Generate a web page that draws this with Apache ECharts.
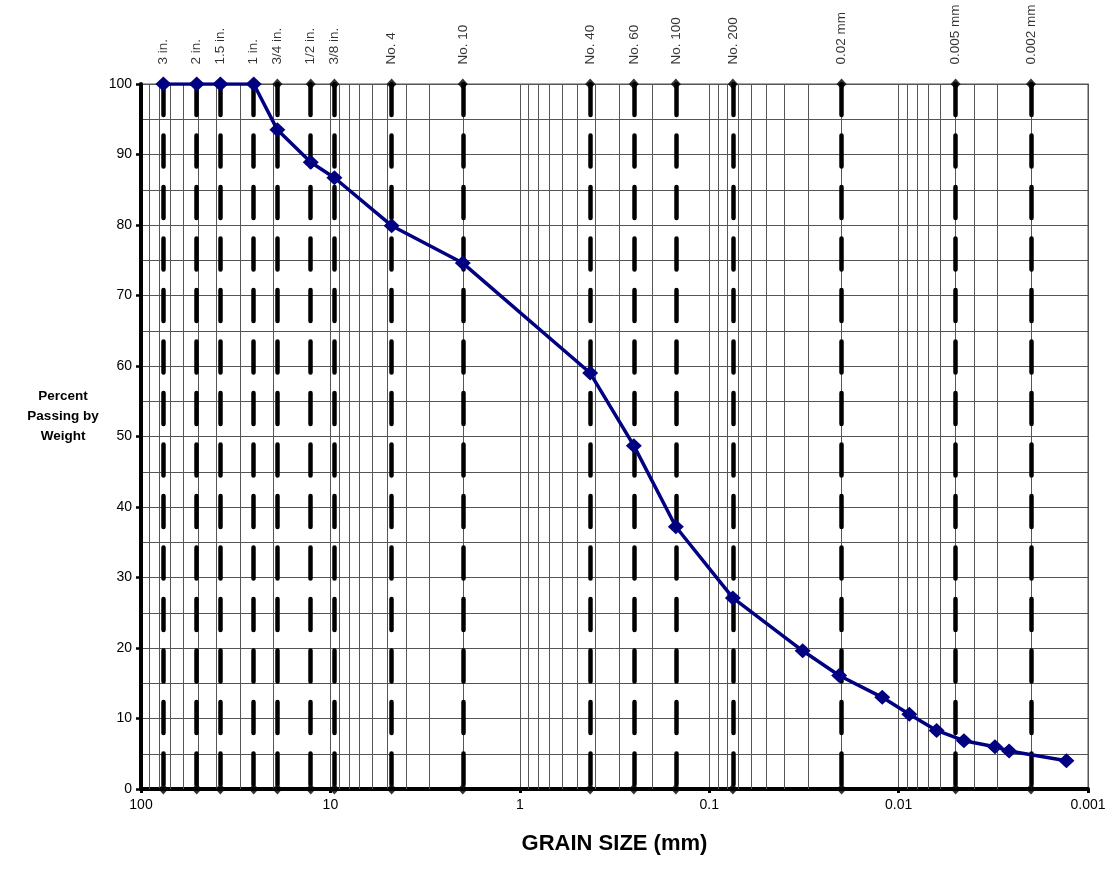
<!DOCTYPE html>
<html>
<head>
<meta charset="utf-8">
<script src="https://cdn.jsdelivr.net/npm/echarts@6/dist/echarts.min.js"></script>
<style>
  html, body { margin: 0; padding: 0; background: #fff; }
  #chart { width: 1113px; height: 886px; }
</style>
</head>
<body>
<div id="chart"></div>
<script>
// sieve openings (mm) and their names
var sieveSizes = [76.2, 50.8, 38.1, 25.4, 19.05, 12.7, 9.525, 4.75, 2.0, 0.425, 0.25, 0.15, 0.075, 0.02, 0.005, 0.002];
var sieveNames = ['3 in.', '2 in.', '1.5 in.', '1 in.', '3/4 in.', '1/2 in.', '3/8 in.', 'No. 4', 'No. 10',
                  'No. 40', 'No. 60', 'No. 100', 'No. 200', '0.02 mm', '0.005 mm', '0.002 mm'];

// measured grading: grain size (mm) and percent passing
var grainSize = [76.2, 50.8, 38.1, 25.4, 19.05, 12.7, 9.525, 4.75, 2.0, 0.425, 0.25, 0.15, 0.075,
                 0.0321, 0.0206, 0.0122, 0.00878, 0.0063, 0.00452, 0.0031, 0.00261, 0.0013];
var percentPassing = [100, 100, 100, 100, 93.5, 88.9, 86.7, 79.9, 74.6, 59.0, 48.7, 37.2, 27.1,
                      19.6, 16.1, 13.0, 10.6, 8.3, 6.85, 6.0, 5.4, 4.0];

var xTicks = [100, 10, 1, 0.1, 0.01, 0.001];
var yTicks = [0, 10, 20, 30, 40, 50, 60, 70, 80, 90, 100];

var FONT = 'Arial, "Liberation Sans", sans-serif';

// log minor gridlines (2..9 in each decade)
var minorX = [];
[0.001, 0.01, 0.1, 1, 10].forEach(function (d) {
  for (var k = 2; k <= 9; k++) minorX.push(+(k * d).toPrecision(3));
});

var topMarks = sieveSizes.map(function (s, i) { return { value: [s, 100], name: sieveNames[i] }; });
var bottomMarks = sieveSizes.map(function (s) { return [s, 0]; });

var chart = echarts.init(document.getElementById('chart'));
chart.setOption({
  animation: false,
  grid: {
    left: 141, top: 84, right: 25, bottom: 97,
    show: true, borderColor: '#8a8a8a', borderWidth: 1.5
  },
  xAxis: {
    type: 'log', logBase: 10, min: 0.001, max: 100, inverse: true,
    name: 'GRAIN SIZE (mm)', nameLocation: 'middle', nameGap: 44,
    nameTextStyle: { fontFamily: FONT, fontWeight: 'bold', fontSize: 22, color: '#000' },
    axisLine: { lineStyle: { color: '#000', width: 4 } },
    axisTick: { show: true, length: 4, lineStyle: { color: '#000', width: 3 } },
    axisLabel: {
      fontFamily: FONT, fontSize: 14, color: '#000', margin: 9,
      formatter: function (v) {
        var r = +(+v).toPrecision(3);
        return xTicks.indexOf(r) >= 0 ? String(r) : '';
      }
    },
    splitLine: { show: true, lineStyle: { color: '#555', width: 1 } }
  },
  yAxis: {
    type: 'value', min: 0, max: 100, interval: 10,
    // two trailing blank lines lift the block to where the original sits
    name: 'Percent\nPassing by\nWeight\n \n ', nameLocation: 'middle', nameGap: 78, nameRotate: 0,
    nameTextStyle: {
      fontFamily: FONT, fontWeight: 'bold', fontSize: 13.5, color: '#000',
      lineHeight: 20, align: 'center'
    },
    axisLine: { show: true, lineStyle: { color: '#000', width: 4 } },
    axisTick: { show: true, length: 5, lineStyle: { color: '#000', width: 2.5 } },
    axisLabel: {
      fontFamily: FONT, fontSize: 14, color: '#000', margin: 9,
      formatter: function (v) { return yTicks.indexOf(v) >= 0 ? String(v) : ''; }
    },
    splitLine: { show: true, lineStyle: { color: '#555', width: 1 } },
    minorTick: { show: false, splitNumber: 2 },
    minorSplitLine: { show: true, lineStyle: { color: '#555', width: 1 } }
  },
  series: [
    {
      name: 'minorGrid',
      type: 'lines',
      coordinateSystem: 'cartesian2d',
      silent: true,
      z: 1,
      lineStyle: { color: '#555', width: 1, type: 'solid', opacity: 1 },
      data: minorX.map(function (v) { return { coords: [[v, 100], [v, 0]] }; })
    },
    {
      name: 'sieveLines',
      type: 'lines',
      coordinateSystem: 'cartesian2d',
      silent: true,
      z: 2,
      lineStyle: { color: '#000', width: 4.5, type: [31, 20.5], cap: 'round', opacity: 1 },
      data: sieveSizes.map(function (s) { return { coords: [[s, 100], [s, 0]] }; })
    },
    {
      name: 'sieves',
      type: 'scatter',
      data: topMarks,
      symbol: 'diamond',
      symbolSize: [10, 11],
      itemStyle: { color: '#000' },
      silent: true,
      z: 3,
      label: {
        show: true, position: 'top', distance: 14, rotate: 90,
        align: 'left', verticalAlign: 'middle',
        fontFamily: FONT, fontSize: 13.5, color: '#000',
        formatter: function (p) { return p.name; }
      }
    },
    {
      name: 'sieveBase',
      type: 'scatter',
      data: bottomMarks,
      symbol: 'diamond',
      symbolSize: [10, 11],
      itemStyle: { color: '#000' },
      silent: true,
      z: 3
    },
    {
      name: 'Percent passing',
      type: 'line',
      data: grainSize.map(function (g, i) { return [g, percentPassing[i]]; }),
      symbol: 'diamond',
      symbolSize: [16, 15],
      showAllSymbol: true,
      itemStyle: { color: '#000080' },
      lineStyle: { color: '#000080', width: 3.5 },
      z: 5
    }
  ]
});
</script>
</body>
</html>
